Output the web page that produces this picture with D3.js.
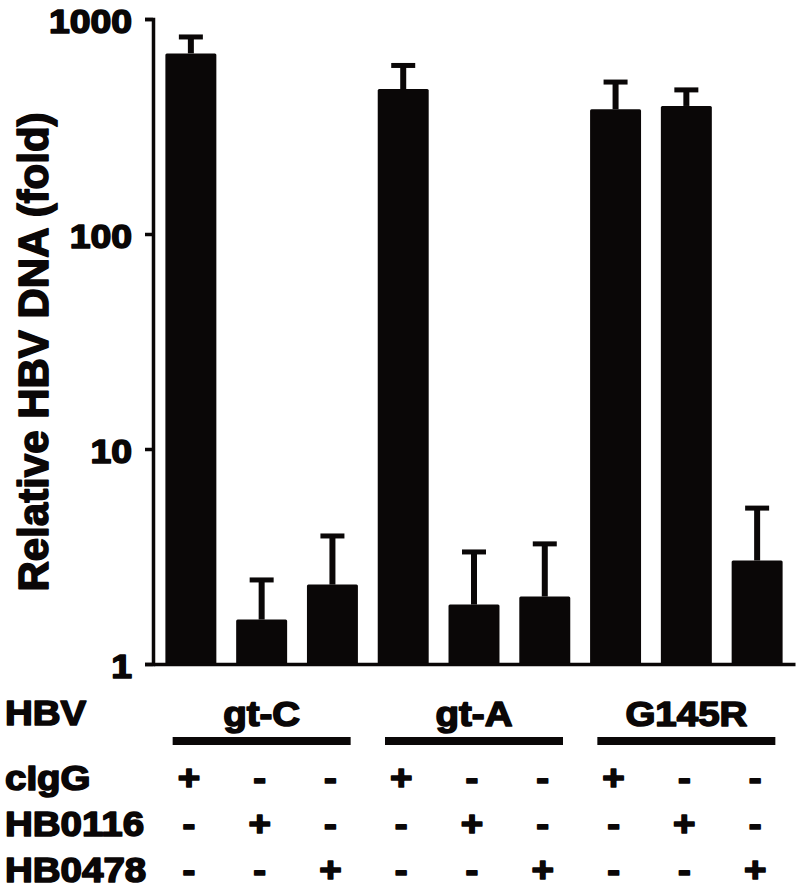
<!DOCTYPE html>
<html>
<head>
<meta charset="utf-8">
<script src="https://cdn.jsdelivr.net/npm/d3@7"></script>
<style>
  body { margin: 0; background: #fff; }
  /* heavier strokes, like the scanned figure */
  svg text {
    font-family: "Liberation Sans", Arial, Helvetica, sans-serif; font-weight: bold;
    fill: #0a0707; stroke: #0a0707; stroke-width: 1.6px; stroke-linejoin: round;
  }
</style>
</head>
<body>
<svg id="chart" width="800" height="890"></svg>
<script>
// chart data
const groups = ["gt-C", "gt-A", "G145R"];
const treatments = ["cIgG", "HB0116", "HB0478"];
const means = [692, 1.61, 2.34, 472, 1.89, 2.06, 380, 394, 3.03];   // bar heights (fold)
const upper = [825, 2.46, 3.94, 608, 3.32, 3.62, 509, 468, 5.31];   // mean + error
const yTicks = [1, 10, 100, 1000];
const yLabel = "Relative HBV DNA (fold)";
const rowTitle = "HBV";

class FoldChart {
    constructor(_config, _data) {
        this.config = { parentElement: _config.parentElement };
        this.data = _data;
        this.ink = "#0a0707";
        this.stretch = "scale(1.1,1)";   // the figure's text is a bit wide
    }

    initVis() {
        let vis = this;
        vis.svg = d3.select(vis.config.parentElement);

        vis.x = d3.scaleBand()
            .domain(vis.data.map(d => d.key))
            .range([153, 795])
            .paddingInner(0.28)
            .paddingOuter(0.175);

        vis.y = d3.scaleLog()
            .domain([1, 1000])
            .range([664, 19]);

        vis.renderVis();
    }

    renderVis() {
        let vis = this;
        const bw = vis.x.bandwidth();

        // bars
        vis.svg.append("g").selectAll("rect")
            .data(vis.data)
            .join("rect")
            .attr("x", d => vis.x(d.key))
            .attr("y", d => vis.y(d.mean))
            .attr("width", bw)
            .attr("height", d => vis.y(1) - vis.y(d.mean))
            .attr("rx", 1.5)
            .attr("fill", vis.ink);

        // error bars (upper only)
        const err = vis.svg.append("g").selectAll("g")
            .data(vis.data)
            .join("g")
            .attr("transform", d => `translate(${vis.x(d.key) + bw / 2},0)`);
        err.append("line")
            .attr("y1", d => vis.y(d.mean))
            .attr("y2", d => vis.y(d.upper))
            .attr("stroke", vis.ink)
            .attr("stroke-width", 6);
        err.append("line")
            .attr("x1", -12).attr("x2", 12)
            .attr("y1", d => vis.y(d.upper))
            .attr("y2", d => vis.y(d.upper))
            .attr("stroke", vis.ink)
            .attr("stroke-width", 5);

        // y axis
        const yAxis = vis.svg.append("g")
            .attr("transform", "translate(153,0)")
            .call(d3.axisLeft(vis.y).tickValues(yTicks).tickFormat(d3.format("d"))
                .tickSize(8).tickPadding(11));
        yAxis.selectAll("path, line").attr("stroke", vis.ink).attr("stroke-width", 3.5);
        yAxis.selectAll("text")
            .attr("font-size", 34)
            .attr("dy", 13)
            .attr("transform", vis.stretch);

        // x axis: plain baseline
        const xAxis = vis.svg.append("g")
            .attr("transform", `translate(0,${vis.y(1)})`)
            .call(d3.axisBottom(vis.x).tickSize(0).tickFormat(""));
        xAxis.select(".domain").attr("stroke", vis.ink).attr("stroke-width", 3.5);

        // y label
        vis.svg.append("text")
            .attr("transform", "translate(48,352) rotate(-90)")
            .attr("text-anchor", "middle")
            .attr("font-size", 42)
            .text(yLabel);

        // treatment table under the bars
        const table = vis.svg.append("g");
        const groupCenter = g => {
            const keys = vis.data.filter(d => d.group === g).map(d => vis.x(d.key) + bw / 2);
            return d3.mean(keys);
        };

        table.append("text")
            .attr("transform", `translate(5,725) ${vis.stretch}`)
            .attr("font-size", 35)
            .text(rowTitle);

        groups.forEach(g => {
            const cx = groupCenter(g);
            table.append("text")
                .attr("transform", `translate(${cx},726) ${vis.stretch}`)
                .attr("text-anchor", "middle")
                .attr("font-size", 35)
                .text(g);
            table.append("line")
                .attr("x1", cx - 89).attr("x2", cx + 89)
                .attr("y1", 741).attr("y2", 741)
                .attr("stroke", vis.ink)
                .attr("stroke-width", 8);
        });

        const rowY = d3.scalePoint().domain(treatments).range([790, 882]);
        treatments.forEach(t => {
            table.append("text")
                .attr("transform", `translate(5,${rowY(t)}) ${vis.stretch}`)
                .attr("font-size", 35)
                .text(t);
            table.append("g").selectAll("text")
                .data(vis.data)
                .join("text")
                .attr("transform", d => `translate(${vis.x(d.key) + bw / 2 - 2},${rowY(t)}) ${vis.stretch}`)
                .attr("text-anchor", "middle")
                .attr("font-size", 35)
                .text(d => d.treatment === t ? "+" : "-");
        });
    }
}

const rows = means.map((m, i) => ({
    key: groups[Math.floor(i / 3)] + "|" + treatments[i % 3],
    group: groups[Math.floor(i / 3)],
    treatment: treatments[i % 3],
    mean: m,
    upper: upper[i]
}));

const chart = new FoldChart({ parentElement: "#chart" }, rows);
chart.initVis();
</script>
</body>
</html>
